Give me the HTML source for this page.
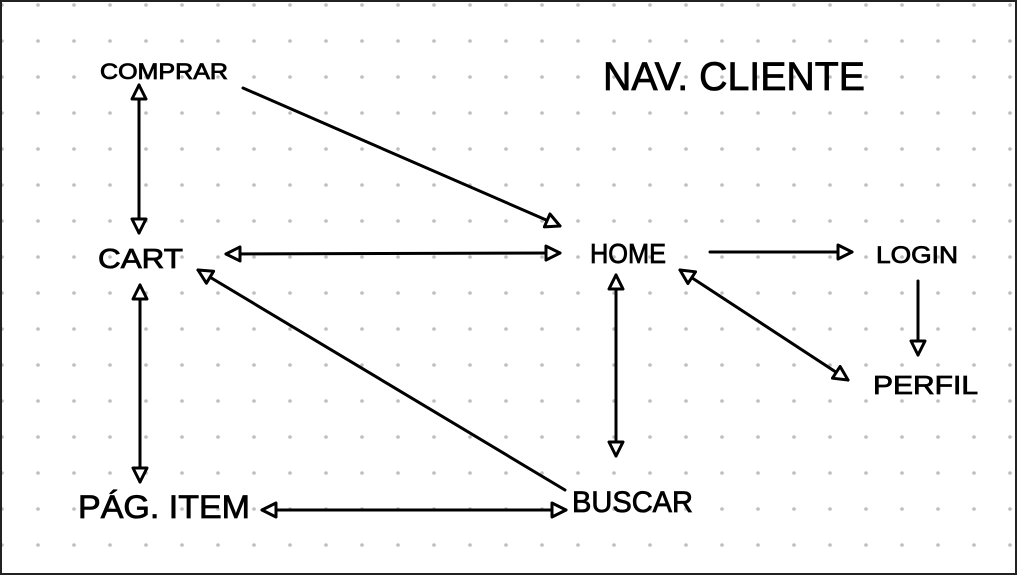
<!DOCTYPE html>
<html><head><meta charset="utf-8"><style>
html,body{margin:0;padding:0;background:#fff;}
svg{display:block;}
text{font-family:"Liberation Sans",sans-serif;fill:#000;stroke:#000;stroke-width:0.8;}
</style></head><body>
<svg width="1017" height="575" viewBox="0 0 1017 575" xmlns="http://www.w3.org/2000/svg">
<defs>
<pattern id="dots" x="2" y="5" width="36" height="36" patternUnits="userSpaceOnUse">
<circle cx="0" cy="0" r="1.8" fill="#bdbdbd"/><circle cx="36" cy="0" r="1.8" fill="#bdbdbd"/><circle cx="0" cy="36" r="1.8" fill="#bdbdbd"/><circle cx="36" cy="36" r="1.8" fill="#bdbdbd"/>
</pattern>
<marker id="a" viewBox="0 0 18 18" refX="16" refY="9" markerWidth="18" markerHeight="18" markerUnits="userSpaceOnUse" orient="auto-start-reverse">
<path d="M2,2 L16,9 L2,16 Z" fill="#fff" stroke="#000" stroke-width="3" stroke-linejoin="round"/>
</marker>
</defs>
<rect width="1017" height="575" fill="url(#dots)"/>
<rect x="1" y="1" width="1015" height="573" fill="none" stroke="#222" stroke-width="2"/>
<g stroke="#000" stroke-width="3" fill="none" stroke-linecap="round">
<line x1="139" y1="85" x2="139" y2="233" marker-start="url(#a)" marker-end="url(#a)"/>
<line x1="243" y1="88" x2="560" y2="226" marker-end="url(#a)"/>
<line x1="226" y1="254" x2="560" y2="253" marker-start="url(#a)" marker-end="url(#a)"/>
<line x1="710" y1="252" x2="852" y2="252" marker-end="url(#a)"/>
<line x1="918" y1="281" x2="918" y2="355" marker-end="url(#a)"/>
<line x1="680" y1="270" x2="848" y2="380" marker-start="url(#a)" marker-end="url(#a)"/>
<line x1="616" y1="275" x2="616" y2="456" marker-start="url(#a)" marker-end="url(#a)"/>
<line x1="140" y1="285" x2="140" y2="482" marker-start="url(#a)" marker-end="url(#a)"/>
<line x1="565" y1="490" x2="198" y2="270" marker-end="url(#a)"/>
<line x1="262" y1="510" x2="566" y2="510" marker-start="url(#a)" marker-end="url(#a)"/>
</g>
<g>
<text x="100" y="79" font-size="22" textLength="128" lengthAdjust="spacingAndGlyphs">COMPRAR</text>
<text x="603" y="90" font-size="40" textLength="262" lengthAdjust="spacingAndGlyphs">NAV. CLIENTE</text>
<text x="98" y="268" font-size="28" textLength="85" lengthAdjust="spacingAndGlyphs">CART</text>
<text x="590" y="263" font-size="28" textLength="76" lengthAdjust="spacingAndGlyphs">HOME</text>
<text x="876" y="263" font-size="24" textLength="82" lengthAdjust="spacingAndGlyphs">LOGIN</text>
<text x="873" y="394" font-size="26" textLength="105" lengthAdjust="spacingAndGlyphs">PERFIL</text>
<text x="78" y="518" font-size="32" textLength="172" lengthAdjust="spacingAndGlyphs">PÁG. ITEM</text>
<text x="572" y="512" font-size="30" textLength="121" lengthAdjust="spacingAndGlyphs">BUSCAR</text>
</g>
</svg>
</body></html>
